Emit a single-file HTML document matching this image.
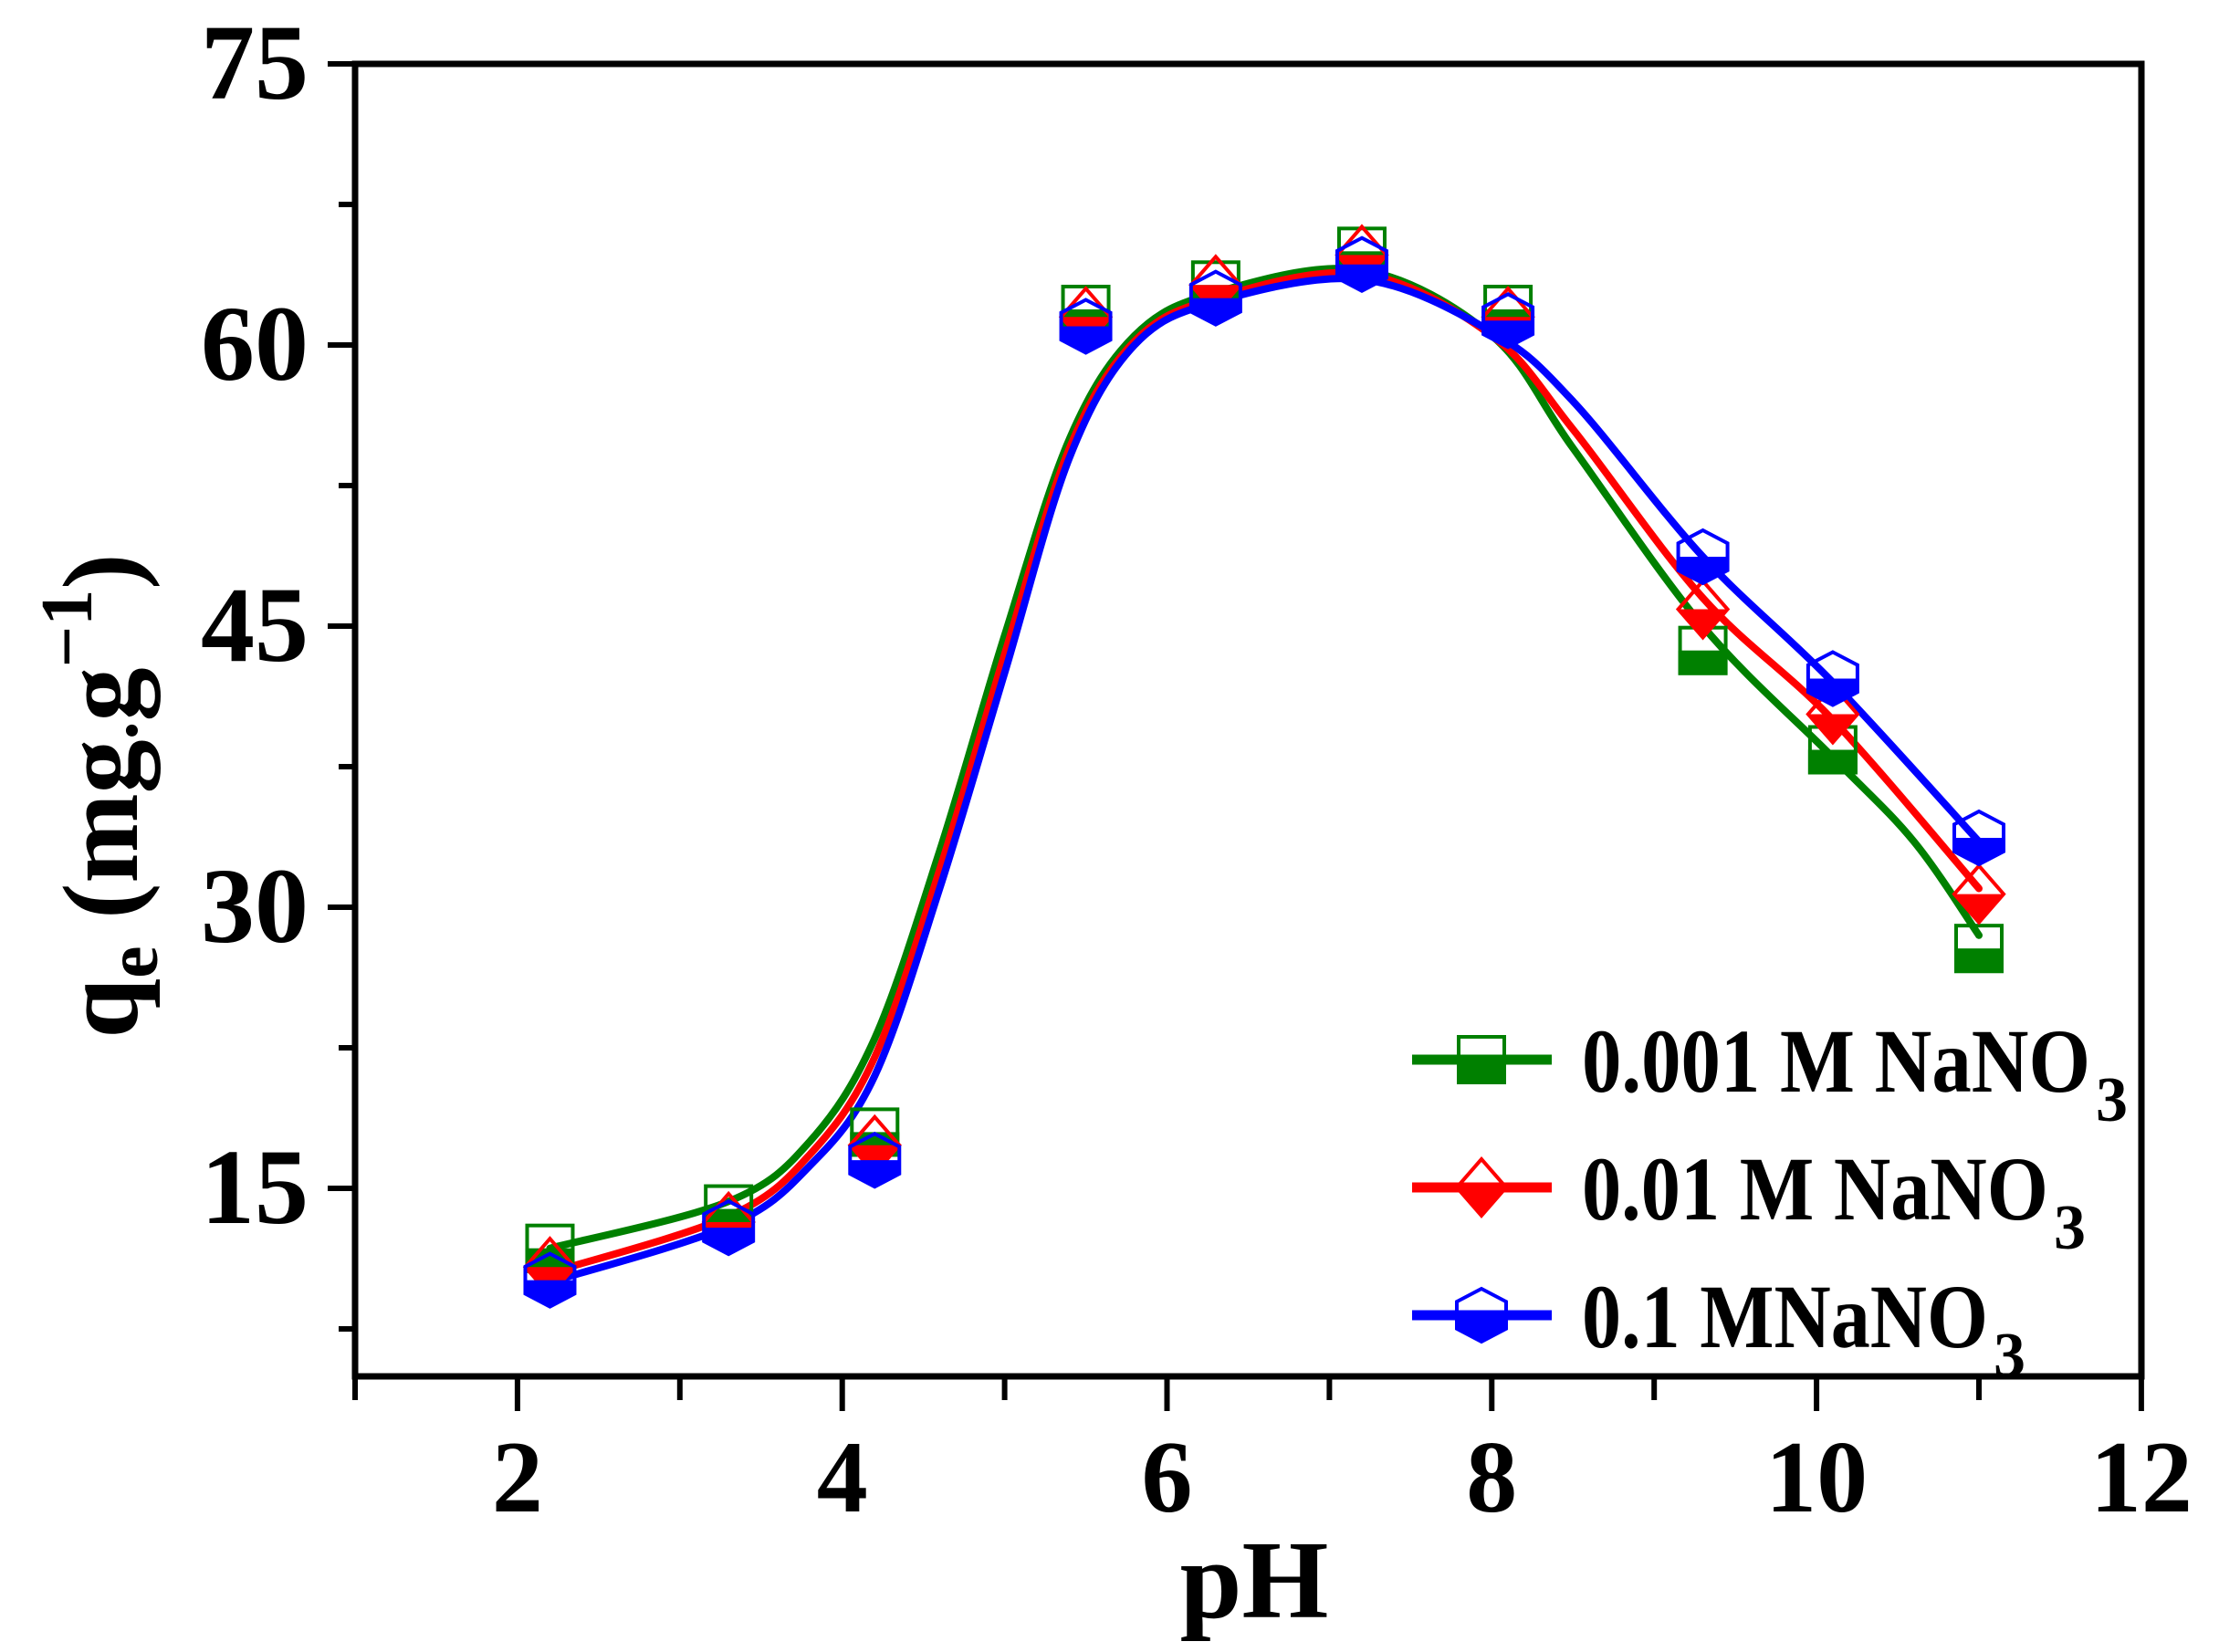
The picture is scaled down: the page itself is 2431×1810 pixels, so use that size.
<!DOCTYPE html>
<html><head><meta charset="utf-8"><style>
html,body{margin:0;padding:0;background:#fff;}
svg{display:block;}
text{font-family:"Liberation Serif",serif;font-weight:bold;fill:#000;}
</style></head><body>
<svg id="s" width="2431" height="1810" viewBox="0 0 2431 1810" xmlns="http://www.w3.org/2000/svg">
<rect width="2431" height="1810" fill="#fff"/>
<g id="axes" stroke="#000" stroke-width="7" fill="none">
<rect x="389" y="70" width="1957" height="1438"/>
</g>
<g id="ticks" stroke="#000" stroke-width="6"></g>
<g id="curves" fill="none" stroke-width="8" stroke-linejoin="round" stroke-linecap="round"></g>
<g id="marks"></g>
<g font-size="118" text-anchor="end">
<text x="338" y="108">75</text>
<text x="338" y="416">60</text>
<text x="338" y="724">45</text>
<text x="338" y="1032">30</text>
<text x="338" y="1340">15</text>
</g>
<g font-size="112" text-anchor="middle" id="xl"></g>
<text x="1374" y="1772" font-size="122" text-anchor="middle">pH</text>
<g transform="translate(150,872) rotate(-90)">
<text x="0" y="0" font-size="118" text-anchor="middle">q<tspan font-size="80" dy="22">e</tspan><tspan dy="-22"> (mg</tspan><tspan font-size="80">.</tspan><tspan>g</tspan><tspan font-size="80" dy="-50">−1</tspan><tspan dy="50">)</tspan></text>
</g>
<g id="leg"></g>
<g font-size="100">
<text x="1733" y="1196" textLength="557" lengthAdjust="spacingAndGlyphs">0.001 M NaNO</text><text x="2296" y="1228" font-size="70">3</text>
<text x="1733" y="1336" textLength="511" lengthAdjust="spacingAndGlyphs">0.01 M NaNO</text><text x="2250" y="1368" font-size="70">3</text>
<text x="1733" y="1476" textLength="445" lengthAdjust="spacingAndGlyphs">0.1 MNaNO</text><text x="2184" y="1508" font-size="70">3</text>
</g>
</svg>
<script>
var NS="http://www.w3.org/2000/svg";
function X(v){return 389+(v-1)*177.9;}
function Y(v){return 70+(75-v)*20.533;}
function el(p,t,a){var e=document.createElementNS(NS,t);for(var k in a)e.setAttribute(k,a[k]);document.getElementById(p).appendChild(e);return e;}
for(var i=1;i<=12;i++){var major=(i%2==0);el("ticks","line",{x1:X(i),x2:X(i),y1:1508,y2:1508+(major?38:26)});
 if(major){var t=el("xl","text",{x:X(i),y:1656});t.textContent=i;}}
for(var v=7.5;v<=75;v+=7.5){var major=(v%15==0);el("ticks","line",{x1:389,x2:389-(major?30:18),y1:Y(v),y2:Y(v)});}
function cr(pts){var P=pts.map(function(p){return[X(p[0]),Y(p[1])]});var d="M"+P[0][0]+","+P[0][1];
 for(var i=0;i<P.length-1;i++){var p0=P[i-1]||P[i],p1=P[i],p2=P[i+1],p3=P[i+2]||P[i+1];
 var c1=[p1[0]+(p2[0]-p0[0])/6,p1[1]+(p2[1]-p0[1])/6],c2=[p2[0]-(p3[0]-p1[0])/6,p2[1]-(p3[1]-p1[1])/6];
 d+=" C"+c1+" "+c2+" "+p2;}return d;}
var G="#008000",R="#ff0000",B="#0000ff";
var cg=[[2.2,11.8],[3.3,14.3],[3.8,17.5],[4.2,23],[4.6,33],[5,44.5],[5.4,55],[5.8,60.5],[6.3,62.8],[7.2,64],[8,60.5],[8.5,54.5],[9.3,45],[10.1,38],[10.6,33.5],[11,28.5]];
var cr_=[[2.2,10.5],[3.3,13.5],[3.8,16.8],[4.2,22],[4.6,32],[5,43.5],[5.4,54.5],[5.8,60.2],[6.3,62.5],[7.2,63.8],[8,60.5],[8.5,55.5],[9.3,46.5],[10.1,40],[11,31]];
var cb=[[2.2,10],[3.3,13],[3.8,16.2],[4.2,21],[4.6,31],[5,42.5],[5.4,54],[5.8,60],[6.3,62.3],[7.2,63.5],[8,60.7],[8.5,57],[9.3,48.7],[10.1,42],[11,33.5]];
el("curves","path",{d:cr(cg),stroke:G});
el("curves","path",{d:cr(cr_),stroke:R});
el("curves","path",{d:cr(cb),stroke:B});
var xs=[2.2,3.3,4.2,5.5,6.3,7.2,8.1,9.3,10.1,11];
var dg=[11.8,13.9,18,61.9,63.2,65,61.9,43.7,38.4,27.8];
var dr=[10.8,13.2,17.3,61.5,63.2,64.8,61.5,45.9,40.3,30.7];
var db=[10.1,12.9,16.5,61,62.5,64.3,61.3,48.7,42.2,33.7];
var h=27;
function sq(g,x,y,c){el(g,"rect",{x:x-h,y:y,width:2*h,height:h,fill:c});el(g,"rect",{x:x-h+2,y:y-h+2,width:2*h-4,height:2*h-4,fill:"none",stroke:c,"stroke-width":4});}
function di(g,x,y,c){el(g,"polygon",{points:(x-h)+","+y+" "+(x+h)+","+y+" "+x+","+(y+h+4),fill:c});el(g,"polygon",{points:x+","+(y-h-4)+" "+(x+h)+","+y+" "+x+","+(y+h+4)+" "+(x-h)+","+y,fill:"none",stroke:c,"stroke-width":4});}
function hx(g,x,y,c){var a=h,b=h*0.55;el(g,"polygon",{points:(x-a)+","+y+" "+(x+a)+","+y+" "+(x+a)+","+(y+b)+" "+x+","+(y+a+2)+" "+(x-a)+","+(y+b),fill:c});el(g,"polygon",{points:x+","+(y-a-2)+" "+(x+a)+","+(y-b)+" "+(x+a)+","+(y+b)+" "+x+","+(y+a+2)+" "+(x-a)+","+(y+b)+" "+(x-a)+","+(y-b),fill:"none",stroke:c,"stroke-width":4});}
for(var i=0;i<xs.length;i++){sq("marks",X(xs[i]),Y(dg[i]),G);}
for(var i=0;i<xs.length;i++){di("marks",X(xs[i]),Y(dr[i]),R);}
for(var i=0;i<xs.length;i++){hx("marks",X(xs[i]),Y(db[i]),B);}
var ly=[1161,1301,1441],lc=[G,R,B];
for(var i=0;i<3;i++){el("leg","line",{x1:1547,x2:1700,y1:ly[i],y2:ly[i],stroke:lc[i],"stroke-width":11});}
sq("leg",1623,1161,G);di("leg",1623,1301,R);hx("leg",1623,1441,B);
</script>
</body></html>
